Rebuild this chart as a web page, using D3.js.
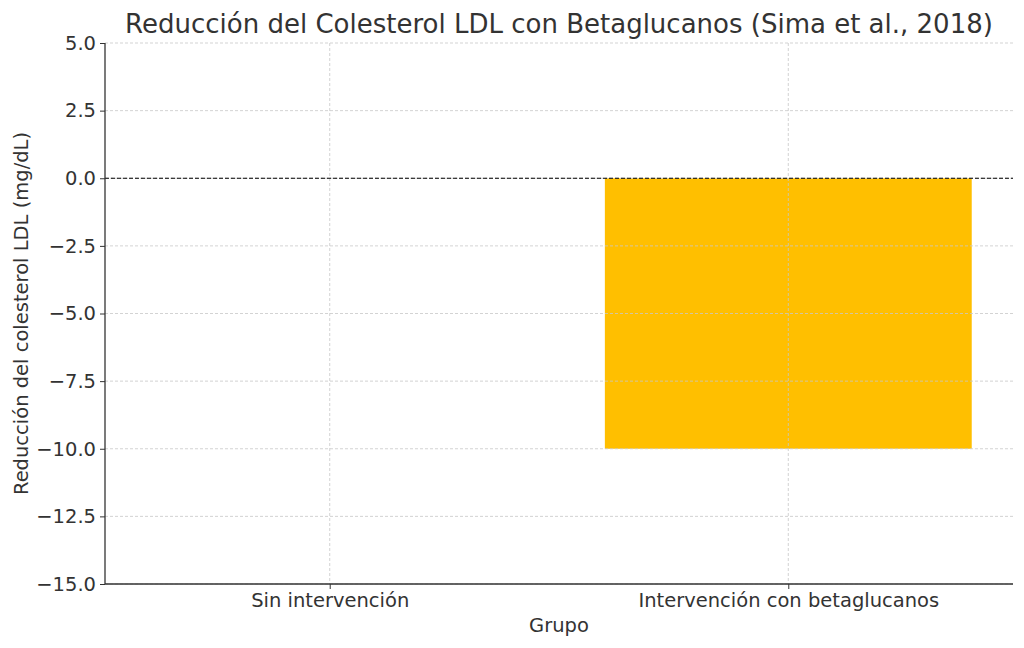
<!DOCTYPE html>
<html lang="es">
<head>
<meta charset="UTF-8">
<title>Reducción del Colesterol LDL</title>
<script src="https://cdnjs.cloudflare.com/ajax/libs/d3/7.9.0/d3.min.js"></script>
<style>
  body { margin: 0; background: #fff; }
  svg text { font-family: "DejaVu Sans", sans-serif; fill: #333; }
</style>
</head>
<body>
<div id="chart"></div>
<script>
// data
const grupos = ['Sin intervención', 'Intervención con betaglucanos'];
const reduccion = [0, -10];
const yTicks = [5, 2.5, 0, -2.5, -5, -7.5, -10, -12.5, -15];

const W = 1024, H = 648;
const margin = { top: 43, right: 11, bottom: 64, left: 105 };
const width = W - margin.left - margin.right;
const height = H - margin.top - margin.bottom;

const svg = d3.select('#chart').append('svg')
    .attr('width', W)
    .attr('height', H);

const g = svg.append('g')
    .attr('transform', `translate(${margin.left},${margin.top})`);

// matplotlib-like linear x: bars at 0 and 1, width 0.8, margins 0.05
const x = d3.scaleLinear().domain([-0.49, 1.49]).range([0, width]);
const y = d3.scaleLinear().domain([-15, 5]).range([height, 0]);
const barW = x(0.8) - x(0);

// bars
g.selectAll('rect.bar')
    .data(reduccion)
    .enter().append('rect')
    .attr('class', 'bar')
    .attr('x', (d, i) => x(i) - barW / 2)
    .attr('y', d => y(Math.max(0, d)))
    .attr('width', barW)
    .attr('height', d => Math.abs(y(d) - y(0)))
    .attr('fill', '#FFBF00');

// grid
g.append('g').selectAll('line')
    .data(yTicks)
    .enter().append('line')
    .attr('x1', 0).attr('x2', width)
    .attr('y1', d => y(d)).attr('y2', d => y(d))
    .attr('stroke', '#c8c8c8').attr('stroke-width', 0.8)
    .attr('stroke-dasharray', '3,2');

g.append('g').selectAll('line')
    .data(grupos)
    .enter().append('line')
    .attr('x1', (d, i) => x(i)).attr('x2', (d, i) => x(i))
    .attr('y1', 0).attr('y2', height)
    .attr('stroke', '#c8c8c8').attr('stroke-width', 0.8)
    .attr('stroke-dasharray', '3,2');

// zero line
g.append('line')
    .attr('x1', 0).attr('x2', width)
    .attr('y1', y(0)).attr('y2', y(0))
    .attr('stroke', '#000').attr('stroke-width', 1)
    .attr('stroke-dasharray', '4,2');

// axes
const fmt = d => (d < 0 ? '\u2212' : '') + Math.abs(d).toFixed(1);

const yAxis = g.append('g')
    .call(d3.axisLeft(y).tickValues(yTicks).tickFormat(fmt).tickSize(5).tickPadding(4));

const xAxis = g.append('g')
    .attr('transform', `translate(0,${height})`)
    .call(d3.axisBottom(x).tickValues([0, 1]).tickFormat(i => grupos[i]).tickSize(5).tickPadding(4));

[yAxis, xAxis].forEach(a => {
    a.select('.domain').attr('stroke', '#333').attr('stroke-width', 1.3);
    a.selectAll('.tick line').attr('stroke', '#333');
    a.selectAll('.tick text').style('font-size', '19.5px').attr('fill', '#333');
});
yAxis.select('.domain').attr('d', `M0,0V${height}`);
xAxis.select('.domain').attr('d', `M0,0H${width}`);

// labels
svg.append('text')
    .attr('x', margin.left + width / 2)
    .attr('y', 33)
    .attr('text-anchor', 'middle')
    .style('font-size', '26px')
    .text('Reducción del Colesterol LDL con Betaglucanos (Sima et al., 2018)');

svg.append('text')
    .attr('x', margin.left + width / 2)
    .attr('y', 632)
    .attr('text-anchor', 'middle')
    .style('font-size', '19.5px')
    .text('Grupo');

svg.append('text')
    .attr('transform', `translate(28,${margin.top + height / 2}) rotate(-90)`)
    .attr('text-anchor', 'middle')
    .style('font-size', '19.5px')
    .text('Reducción del colesterol LDL (mg/dL)');
</script>
</body>
</html>
